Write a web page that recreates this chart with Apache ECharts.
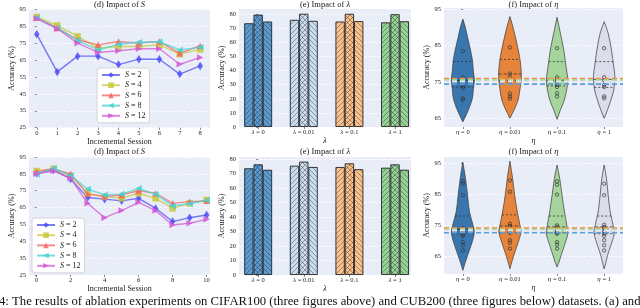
<!DOCTYPE html>
<html><head><meta charset="utf-8">
<script src="https://cdn.jsdelivr.net/npm/echarts@6/dist/echarts.min.js"></script>
<style>html,body{margin:0;padding:0;background:#fff}#c{width:640px;height:308px}</style>
</head><body><div id="c"></div><script>
// ---------------- data ----------------
const sessionsCifar = [0,1,2,3,4,5,6,7,8];
const sessionsCub = [0,1,2,3,4,5,6,7,8,9,10];
const sNames = ['S = 2','S = 4','S = 6','S = 8','S = 12'];
const cifarS2  = [80.2,58,67.3,67.3,62.3,65.5,65.5,56.7,61.5];
const cifarS4  = [90.5,85.5,79,72,73,73,74,68.5,71.3];
const cifarS6  = [90,84,77,74,76,75,76,69,73.5];
const cifarS8  = [90,84,76.5,71,74.3,75.5,75.8,71,72.5];
const cifarS12 = [89.5,83.5,75,69.5,70.5,71.7,71.7,62.5,66.5];
const cubS2  = [85.3,87.3,82,71,70,69,70.5,64.5,56.7,59,60.6];
const cubS4  = [86.7,88,83.7,73.5,71.5,70.5,73.5,70.5,64.5,67.5,69.5];
const cubS6  = [86.3,88,85,73,71.5,72.5,75,73.5,67.5,68.5,69];
const cubS8  = [84.7,88.3,84,76,72.5,73,76.4,72.9,66,67.3,69.3];
const cubS12 = [85,86.7,82.4,67.5,59,63.2,68.1,63.2,54.7,55.7,58];
const lineTicks = [25,35,45,55,65,75,85,95];

const lambdaLabels = ['0','0.01','0.1','1'];
const cifarBarLeft  = [73.6,76,74.8,74.2];
const cifarBarMid   = [79.7,80.3,80.3,80];
const cifarBarRight = [74.8,75.3,75.1,75];
const cubBarLeft  = [73.6,75.4,74.5,74];
const cubBarMid   = [76.3,78.2,77,76.3];
const cubBarRight = [72.6,74.5,73,72.6];
const barTicks = [0,10,20,30,40,50,60,70,80];

const etaLabels = ['0','0.01','0.1','1'];
const violinTicks = [65,75,85,95];
// violin outlines: [accuracy, relative density]
const cifarEta0Profile  = [[92.3,0],[90,0.22],[87,0.43],[84,0.65],[81,0.83],[78,0.91],[75.5,1],[73,0.91],[70.5,0.83],[68,0.57],[66,0.3],[64,0]];
const cifarEta001Profile= [[93,0],[90,0.27],[86,0.57],[82,0.83],[79,0.95],[76,0.98],[73,0.87],[70,0.7],[67.5,0.39],[65,0]];
const cifarEta01Profile = [[92.8,0],[88.4,0.29],[83.8,0.58],[79.2,0.78],[75.5,0.93],[72.8,0.83],[70,0.63],[67.3,0.29],[64.7,0]];
const cifarEta1Profile  = [[91.6,0],[88.4,0.35],[83.8,0.63],[79.2,0.83],[76.4,0.93],[72.8,0.83],[70,0.58],[67.3,0.29],[65,0]];
const cubEta0Profile   = [[95.5,0],[90.2,0.23],[84.8,0.41],[79.4,0.58],[74,0.96],[71.9,0.96],[68.7,0.72],[65.4,0.41],[62.7,0.17],[60.6,0]];
const cubEta001Profile = [[95.8,0],[90.2,0.23],[84.8,0.41],[79.4,0.64],[75.1,0.87],[73,0.96],[69.7,0.72],[66.5,0.43],[63.8,0.2],[61.1,0]];
const cubEta01Profile  = [[94.5,0],[90.2,0.23],[84.8,0.43],[79.4,0.64],[74.6,0.87],[72.4,0.93],[68.7,0.64],[65.4,0.35],[63.3,0.17],[61.7,0]];
const cubEta1Profile   = [[94.5,0],[90.2,0.2],[84.8,0.35],[79.4,0.52],[74.6,0.81],[72.4,0.87],[68.7,0.58],[65.4,0.29],[62.7,0.12],[61.1,0]];
const cifarEta0Points  = [83.5,76.2,75.6,75.1,74.0,73.4,70.5,70.0];
const cifarEta001Points= [84.5,77.3,76.3,75.4,75.0,71.8,71.0,70.4];
const cifarEta01Points = [84.3,76.3,75.7,75.1,74.2,73.6,71.9,71.0];
const cifarEta1Points  = [84.3,76.3,75.5,74.2,73.6,71.0,70.5];
const cubEta0Points   = [89.3,88.5,84.8,74.2,73.5,72.7,72.1,71.7,69.7,68.7,67.0];
const cubEta001Points = [89.6,85.9,75.6,74.9,73.8,73.2,72.7,70.3,69.5,67.6];
const cubEta01Points  = [89.3,88.2,85.0,75.1,74.6,73.2,72.7,72.4,69.7,68.9,67.6];
const cubEta1Points   = [88.5,84.8,75.3,74.6,74.1,73.2,72.4,71.7,70.3,68.7,67.0];
const cifarEta0Quart  = [73.6,75.4,80.6];
const cifarEta001Quart= [75.3,77.2,81.2];
const cifarEta01Quart = [73.9,75.5,80.6];
const cifarEta1Quart  = [73.5,75.7,80.6];
const cubEta0Quart   = [72.4,73.8,78.1];
const cubEta001Quart = [72.7,74.9,78.5];
const cubEta01Quart  = [72.7,74.6,78.1];
const cubEta1Quart   = [72.4,74.6,78.1];
const cifarEtaMeans = [74.4,75.9,75.5,75.1];
const cubEtaMeans   = [72.7,74.2,73.8,73.4];

// ---------------- styles ----------------
const FONT = 'Liberation Serif';
const BG = '#e8edf8';
const lineColors = ['#4f4ff5','#c8c83a','#f26666','#45d3d3','#d45ad4'];
const lineSymbols = ['diamond','rect','triangle','triangle','triangle'];
const lineRot = [0,0,0,90,-90];
const barColors = ['#5b9bd0','#c9dcf0','#fbbf89','#94d394'];
const violinColors = ['#3a76ae','#e5843a','#a5d59d','#dcdcec'];
const meanColors = ['#5b9fe0','#f28e35','#a8dca0','#e4e4f4'];

function hatch(bg, kind){
  const s = 5, c = document.createElement('canvas');
  c.width = s; c.height = s;
  const g = c.getContext('2d');
  g.fillStyle = bg; g.fillRect(0,0,s,s);
  g.strokeStyle = 'rgba(20,20,20,0.6)'; g.lineWidth = 0.6;
  const fwd = () => { g.beginPath(); g.moveTo(-1,s+1); g.lineTo(s+1,-1); g.moveTo(-1,1); g.lineTo(1,-1); g.moveTo(s-1,s+1); g.lineTo(s+1,s-1); g.stroke(); };
  const bwd = () => { g.beginPath(); g.moveTo(-1,-1); g.lineTo(s+1,s+1); g.moveTo(-1,s-1); g.lineTo(1,s+1); g.moveTo(s-1,-1); g.lineTo(s+1,1); g.stroke(); };
  if (kind === '/') fwd();
  if (kind === '\\') bwd();
  if (kind === 'x') { fwd(); bwd(); }
  return {image: c, repeat: 'repeat'};
}

const tickLabel = {fontFamily: FONT, fontSize: 6.5, color: '#222'};
const axisNameStyle = {fontFamily: FONT, fontSize: 8, color: '#222'};
const italicRich = {i: {fontFamily: FONT, fontStyle: 'italic', fontSize: 7, color: '#222'}};

const grids = [
  {left: 29, top: 9.3, width: 181, height: 118.4},
  {left: 239, top: 9, width: 172, height: 118},
  {left: 444, top: 8, width: 179, height: 119},
  {left: 29, top: 157, width: 181, height: 118},
  {left: 239, top: 157, width: 172, height: 118},
  {left: 444, top: 157, width: 179, height: 117}
].map(g => Object.assign({show: true, backgroundColor: BG, borderWidth: 0, containLabel: false}, g));

function yAx(gi, min, max, ticks, gap){
  return {type: 'value', gridIndex: gi, min, max,
    name: 'Accuracy (%)', nameLocation: 'middle', nameGap: gap, nameTextStyle: axisNameStyle,
    axisLine: {show: false},
    axisTick: {show: true, length: 2, customValues: ticks, lineStyle: {color: '#333', width: 0.6}},
    axisLabel: Object.assign({margin: 3, customValues: ticks}, tickLabel),
    splitLine: {show: true, lineStyle: {color: '#ffffff', width: 0.8, type: [3,2]}}};
}
function xAx(gi, min, max, vals, fmt, name, nameGap, nameRich){
  return {type: 'value', gridIndex: gi, min, max,
    name, nameLocation: 'middle', nameGap, nameTextStyle: Object.assign({rich: nameRich}, axisNameStyle),
    axisLine: {show: false},
    axisTick: {show: true, length: 2, customValues: vals, lineStyle: {color: '#333', width: 0.6}},
    axisLabel: Object.assign({margin: 2, customValues: vals, formatter: fmt, rich: italicRich}, tickLabel),
    splitLine: {show: false}};
}

const xAxes = [
  xAx(0, -0.38, 8.48, sessionsCifar, v => String(v), 'Incremental Session', 6),
  xAx(1, -0.42, 3.35, [0,1,2,3], v => '{i|λ} = ' + lambdaLabels[v], '{i|λ}', 7, {i:{fontStyle:'italic', fontFamily: FONT, fontSize: 8}}),
  xAx(2, -0.4, 3.4, [0,1,2,3], v => '{i|η} = ' + etaLabels[v], '{i|η}', 7, {i:{fontStyle:'italic', fontFamily: FONT, fontSize: 8}}),
  xAx(3, -0.45, 10.2, [0,2,4,6,8,10], v => String(v), 'Incremental Session', 8),
  xAx(4, -0.42, 3.35, [0,1,2,3], v => '{i|λ} = ' + lambdaLabels[v], '{i|λ}', 8, {i:{fontStyle:'italic', fontFamily: FONT, fontSize: 8}}),
  xAx(5, -0.4, 3.4, [0,1,2,3], v => '{i|η} = ' + etaLabels[v], '{i|η}', 8, {i:{fontStyle:'italic', fontFamily: FONT, fontSize: 8}})
];
const yAxes = [
  yAx(0, 25, 95, lineTicks, 10),
  yAx(1, 0, 83.7, barTicks, 12),
  yAx(2, 62.6, 95.35, violinTicks, 10),
  yAx(3, 25, 95, lineTicks, 10),
  yAx(4, 0, 81.4, barTicks, 12),
  yAx(5, 59.44, 97.1, violinTicks, 10)
];

const series = [];
// line charts
function addLines(gi, xs, sets){
  sets.forEach((ys, k) => {
    series.push({type: 'line', name: sNames[k], xAxisIndex: gi, yAxisIndex: gi,
      data: xs.map((x, j) => [x, ys[j]]),
      symbol: lineSymbols[k], symbolRotate: lineRot[k], symbolSize: k === 0 ? [5.5,8.5] : 6.5,
      lineStyle: {color: lineColors[k], width: 1.4, opacity: 0.75},
      itemStyle: {color: lineColors[k], opacity: 0.85},
      z: 3 + k, animation: false});
  });
}
addLines(0, sessionsCifar, [cifarS2, cifarS4, cifarS6, cifarS8, cifarS12]);
addLines(3, sessionsCub, [cubS2, cubS4, cubS6, cubS8, cubS12]);

// bar charts
function addBars(gi, sets){
  const kinds = ['/','x','\\'];
  sets.forEach((vals, k) => {
    series.push({type: 'bar', xAxisIndex: gi, yAxisIndex: gi, barWidth: 9.3, barGap: '0%',
      data: vals.map((v, j) => ({value: [j, v], itemStyle: {color: hatch(barColors[j], kinds[k]), borderColor: '#222', borderWidth: 0.9}})),
      animation: false});
  });
}
addBars(1, [cifarBarLeft, cifarBarMid, cifarBarRight]);
addBars(4, [cubBarLeft, cubBarMid, cubBarRight]);

// violins
const W = 0.245;
function widthAt(prof, v){
  for (let i = 0; i < prof.length - 1; i++) {
    const a = prof[i], b = prof[i+1];
    if (v <= a[0] && v >= b[0]) { const t = (a[0]-v)/(a[0]-b[0]); return a[1] + t*(b[1]-a[1]); }
  }
  return 0;
}
function addViolins(gi, profiles, points, quarts, means){
  series.push({type: 'custom', xAxisIndex: gi, yAxisIndex: gi, clip: false, animation: false, z: 2,
    data: profiles.map((p, i) => [i, p[0][0]]),
    renderItem: function(params, api){
      const i = api.value(0);
      const prof = profiles[i];
      const pts = [];
      prof.forEach(p => pts.push(api.coord([i + p[1]*W, p[0]])));
      for (let k = prof.length - 1; k >= 0; k--) pts.push(api.coord([i - prof[k][1]*W, prof[k][0]]));
      const children = [{type: 'polygon', shape: {points: pts, smooth: 0.35},
        style: {fill: violinColors[i], stroke: '#3a3a3a', lineWidth: 0.7}}];
      quarts[i].forEach((q, qi) => {
        const w = widthAt(prof, q) * W;
        const a = api.coord([i - w, q]), b = api.coord([i + w, q]);
        children.push({type: 'line', shape: {x1: a[0], y1: a[1], x2: b[0], y2: b[1]},
          style: {stroke: '#333', lineWidth: 0.8, lineDash: qi === 1 ? [3,2] : [2,2]}});
      });
      points[i].forEach(v => {
        const c = api.coord([i, v]);
        children.push({type: 'circle', shape: {cx: c[0], cy: c[1], r: 1.7},
          style: {fill: 'rgba(0,0,0,0)', stroke: '#333', lineWidth: 0.7}});
      });
      return {type: 'group', children};
    }});
  means.forEach((m, i) => {
    series.push({type: 'line', xAxisIndex: gi, yAxisIndex: gi, data: [[-0.4, m],[3.4, m]],
      symbol: 'none', lineStyle: {color: meanColors[i], width: 1.6, type: [5,3]}, z: 4, animation: false, silent: true});
  });
}
addViolins(2, [cifarEta0Profile, cifarEta001Profile, cifarEta01Profile, cifarEta1Profile],
  [cifarEta0Points, cifarEta001Points, cifarEta01Points, cifarEta1Points],
  [cifarEta0Quart, cifarEta001Quart, cifarEta01Quart, cifarEta1Quart], cifarEtaMeans);
addViolins(5, [cubEta0Profile, cubEta001Profile, cubEta01Profile, cubEta1Profile],
  [cubEta0Points, cubEta001Points, cubEta01Points, cubEta1Points],
  [cubEta0Quart, cubEta001Quart, cubEta01Quart, cubEta1Quart], cubEtaMeans);

function legendAt(left, top){
  return {show: true, left, top, orient: 'vertical', data: sNames,
    backgroundColor: '#ffffff', borderColor: '#cccccc', borderWidth: 0.8, borderRadius: 3,
    padding: [3,4,3,4], itemGap: 2.2, itemWidth: 18, itemHeight: 7,
    formatter: n => n.replace('S', '{i|S}'),
    textStyle: {fontFamily: FONT, fontSize: 8, color: '#222', rich: {i: {fontStyle: 'italic', fontFamily: FONT, fontSize: 8}}}};
}

const captionText = '4: The results of ablation experiments on CIFAR100 (three figures above) and CUB200 (three figures below) datasets. (a) and';
const mc = document.createElement('canvas').getContext('2d');
mc.font = '12px "' + FONT + '"';
const capSize = 12 * 642 / mc.measureText(captionText).width;

function title(x, y, pre, sym){
  return {type: 'text', x, y, z: 10, style: {text: pre + '{i|' + sym + '}', fontFamily: FONT, fontSize: 8.5, fill: '#222',
    align: 'center', verticalAlign: 'middle', rich: {i: {fontStyle: 'italic', fontFamily: FONT, fontSize: 8.5}}}};
}
const graphics = [
  title(119.5, 4.5, '(d) Impact of ', 'S'),
  title(325, 4.5, '(e) Impact of ', 'λ'),
  title(533.5, 4.5, '(f) Impact of ', 'η'),
  title(119.5, 151.5, '(d) Impact of ', 'S'),
  title(325, 151.5, '(e) Impact of ', 'λ'),
  title(533.5, 151.5, '(f) Impact of ', 'η'),
  {type: 'text', x: -1, y: 301.5, style: {text: captionText, fontFamily: FONT, fontSize: capSize, fill: '#111', align: 'left', verticalAlign: 'middle'}}
];

const chart = echarts.init(document.getElementById('c'), null, {renderer: 'canvas'});
chart.setOption({
  animation: false,
  backgroundColor: '#ffffff',
  grid: grids, xAxis: xAxes, yAxis: yAxes,
  legend: [legendAt(97, 68), legendAt(32, 218)],
  series, graphic: graphics
});
</script></body></html>
